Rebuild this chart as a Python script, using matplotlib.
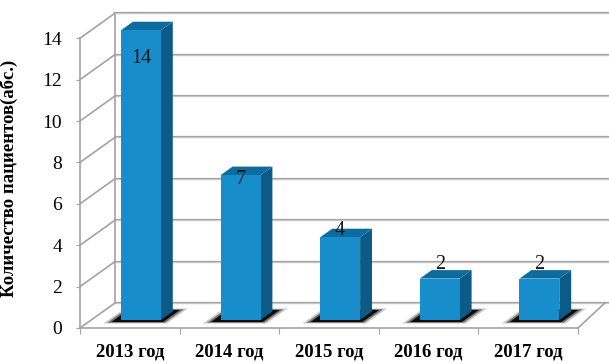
import numpy as np
import matplotlib.pyplot as plt
from matplotlib.patches import Polygon

years = ["2013 год", "2014 год", "2015 год", "2016 год", "2017 год"]
patients = [14, 7, 4, 2, 2]
yticks = [0, 2, 4, 6, 8, 10, 12, 14]
ylabel = "Количество пациентов(абс.)"

plt.rcParams['font.family'] = ['Liberation Serif', 'DejaVu Serif']

# pseudo 3d depth: back wall offset in data units
depth_dx = 0.351
depth_dy = 1.208
right_dx = 0.27
front_f = 0.32
back_f = 0.66
bar_w = 0.40

c_front = '#178dcc'
c_side = '#0b5b86'
c_top = '#0d6c9e'
c_grid = '#a3a3a3'

fig = plt.figure(figsize=(6.09, 3.64), dpi=100)
ax = fig.add_axes([0, 0, 1, 1])
ax.set_xlim(-80 / 99.6, (609 - 80) / 99.6)
ax.set_ylim(-36 / 20.7, (364 - 36) / 20.7)

n = len(years)

# back wall gridlines and left wall diagonals
for v in yticks:
    ax.plot([depth_dx, ax.get_xlim()[1]], [v + depth_dy, v + depth_dy], color=c_grid, lw=1.6, zorder=1)
    ax.plot([depth_dx, ax.get_xlim()[1]], [v + depth_dy, v + depth_dy], color='#d8d8d8', lw=0.5, zorder=1)
    ax.plot([0, depth_dx], [v, v + depth_dy], color=c_grid, lw=1.2, zorder=1)
ax.plot([depth_dx, depth_dx], [depth_dy, yticks[-1] + depth_dy], color=c_grid, lw=1.2, zorder=1)
# floor right edge
ax.plot([n, n + right_dx], [0, depth_dy], color=c_grid, lw=1.2, zorder=1)

for i, v in enumerate(patients):
    c = i + 0.5
    x0 = c - bar_w / 2
    x1 = c + bar_w / 2
    fx, fy = front_f * depth_dx, front_f * depth_dy
    bx, by = back_f * depth_dx, back_f * depth_dy

    # shadow on the floor
    for grow, alpha in [(0.06, 0.2), (0.03, 0.45), (0.0, 0.9)]:
        sx0 = x0 - 0.07 - grow
        sx1 = x1 + 0.05 + grow
        f0, f1 = 0.24 - grow, 0.72 + grow
        shadow = Polygon([(sx0 + f0 * depth_dx, f0 * depth_dy), (sx1 + f0 * depth_dx, f0 * depth_dy),
                          (sx1 + f1 * depth_dx, f1 * depth_dy), (sx0 + f1 * depth_dx, f1 * depth_dy)],
                         closed=True, facecolor='black', edgecolor='none', alpha=alpha, zorder=2)
        ax.add_patch(shadow)

    side = Polygon([(x1 + fx, fy), (x1 + bx, by), (x1 + bx, v + by), (x1 + fx, v + fy)],
                   closed=True, facecolor=c_side, edgecolor='none', zorder=3)
    top = Polygon([(x0 + fx, v + fy), (x1 + fx, v + fy), (x1 + bx, v + by), (x0 + bx, v + by)],
                  closed=True, facecolor=c_top, edgecolor='none', zorder=3)
    ax.add_patch(side)
    ax.add_patch(top)
    ax.bar(c + fx, v, width=bar_w, bottom=fy, color=c_front, zorder=4)

    ax.text(c + fx, 0.83 * v + 1.0 + fy, str(v), ha='center', va='center',
            fontsize=14.5, color='#1a1a1a', zorder=5)

# front axes
for s in ['top', 'right']:
    ax.spines[s].set_visible(False)
ax.spines['left'].set_position(('data', 0))
ax.spines['bottom'].set_position(('data', 0))
ax.spines['left'].set_bounds(0, yticks[-1])
ax.spines['bottom'].set_bounds(0, n)
ax.spines['left'].set_color(c_grid)
ax.spines['bottom'].set_color(c_grid)
ax.spines['left'].set_linewidth(1.2)
ax.spines['bottom'].set_linewidth(1.2)

ax.set_yticks(yticks)
ax.set_yticklabels([str(t) for t in yticks], fontsize=14)
ax.tick_params(axis='y', length=3, color=c_grid, pad=10)

ax.set_xticks(np.arange(n + 1))
ax.set_xticklabels([])
ax.set_xticks(np.arange(n) + 0.5, minor=True)
ax.set_xticklabels(years, minor=True, fontsize=13.5, fontweight='bold')
ax.tick_params(axis='x', which='major', length=4, color=c_grid)
ax.tick_params(axis='x', which='minor', length=0, pad=11)

ax.set_ylabel(ylabel, fontsize=13.5, fontweight='bold')
ax.yaxis.set_label_coords(18 / 609, 0.51)

plt.savefig('out.png', dpi=100)
